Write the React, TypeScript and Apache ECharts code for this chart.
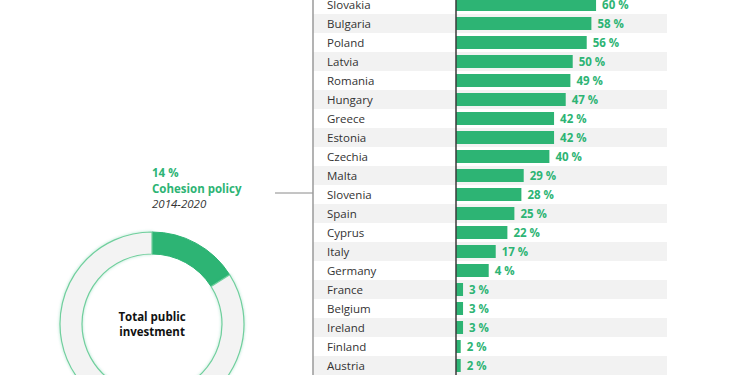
import React, { useEffect, useRef } from "react";
import * as echarts from "echarts";

const categories = [
  "Slovakia", "Bulgaria", "Poland", "Latvia", "Romania", "Hungary", "Greece",
  "Estonia", "Czechia", "Malta", "Slovenia", "Spain", "Cyprus", "Italy",
  "Germany", "France", "Belgium", "Ireland", "Finland", "Austria",
];
// bar lengths as drawn
const barValues = [60, 58, 56, 50, 49, 47, 42, 42, 40, 29, 28, 25, 22, 17, 14, 3, 3, 3, 2, 2];
// labels as printed
const barLabels = ["60 %", "58 %", "56 %", "50 %", "49 %", "47 %", "42 %", "42 %", "40 %", "29 %",
  "28 %", "25 %", "22 %", "17 %", "4 %", "3 %", "3 %", "3 %", "2 %", "2 %"];

const donutValues = [16, 84];
const donutNames = ["Cohesion policy", "Other"];
const calloutLines = ["14 %", "Cohesion policy", "2014-2020"];
const centerText = "Total public\ninvestment";

const GREEN = "#2db474";
const FONT = "'Open Sans', 'Noto Sans', sans-serif";
const OFFSET = 5; // chart div starts 5px above the page top

export default function App() {
  const ref = useRef<HTMLDivElement>(null);
  useEffect(() => {
    if (!ref.current) return;
    const chart = echarts.init(ref.current, undefined, { renderer: "svg" });
    chart.setOption({
      animation: false,
      backgroundColor: "#ffffff",
      grid: { left: 313, right: 83, top: 0, bottom: 0, containLabel: false },
      xAxis: {
        type: "value",
        min: -61.3,
        max: 90.4,
        show: false,
      },
      yAxis: {
        type: "category",
        inverse: true,
        data: categories,
        axisLine: { show: true, onZero: false, lineStyle: { color: "#9a9a9a", width: 1.5 } },
        axisTick: { show: false },
        axisLabel: {
          inside: true,
          interval: 0,
          margin: 14,
          color: "#333333",
          fontFamily: FONT,
          fontSize: 11.5,
        },
        splitArea: { show: true, interval: 0, areaStyle: { color: ["#ffffff", "#f2f2f2"] } },
        splitLine: { show: false },
      },
      series: [
        {
          type: "bar",
          data: barValues,
          barWidth: 13,
          itemStyle: { color: GREEN },
          label: {
            show: true,
            position: "right",
            distance: 6,
            color: GREEN,
            fontWeight: "bold",
            fontFamily: FONT,
            fontSize: 11.5,
            formatter: (p: any) => barLabels[p.dataIndex],
          },
          markLine: {
            silent: true,
            symbol: "none",
            label: { show: false },
            lineStyle: { color: "#3a3a3a", width: 1.5, type: "solid" },
            data: [{ xAxis: 0 }],
          },
        },
        {
          type: "pie",
          center: [152, 324 + OFFSET],
          radius: [70, 92],
          startAngle: 90,
          clockwise: true,
          silent: true,
          label: { show: false },
          labelLine: { show: false },
          data: donutValues.map((v, i) => ({
            value: v,
            name: donutNames[i],
            itemStyle:
              i === 0
                ? { color: GREEN, borderColor: GREEN, borderWidth: 1 }
                : {
                    color: "#f3f3f3",
                    borderColor: "#6fcf9d",
                    borderWidth: 1.2,
                    shadowBlur: 3,
                    shadowColor: "rgba(45,180,116,0.35)",
                  },
          })),
        },
      ],
      graphic: [
        {
          type: "text",
          left: 152,
          top: 166 + OFFSET,
          style: { text: calloutLines[0], fill: GREEN, font: `bold 11.5px ${FONT}` },
        },
        {
          type: "text",
          left: 152,
          top: 182 + OFFSET,
          style: { text: calloutLines[1], fill: GREEN, font: `bold 11.5px ${FONT}` },
        },
        {
          type: "text",
          left: 152,
          top: 197 + OFFSET,
          style: { text: calloutLines[2], fill: "#333333", font: `italic 11.5px ${FONT}` },
        },
        {
          type: "line",
          shape: { x1: 275, y1: 193 + OFFSET, x2: 313, y2: 193 + OFFSET },
          style: { stroke: "#8a8a8a", lineWidth: 1 },
        },
        {
          type: "text",
          x: 152,
          y: 324 + OFFSET,
          style: {
            text: centerText,
            fill: "#111111",
            font: `bold 11.5px ${FONT}`,
            align: "center",
            verticalAlign: "middle",
            lineHeight: 15,
          },
        },
      ],
    });
    return () => chart.dispose();
  }, []);
  return (
    <div
      ref={ref}
      style={{ position: "fixed", left: 0, top: -OFFSET, width: 750, height: 380 }}
    />
  );
}
